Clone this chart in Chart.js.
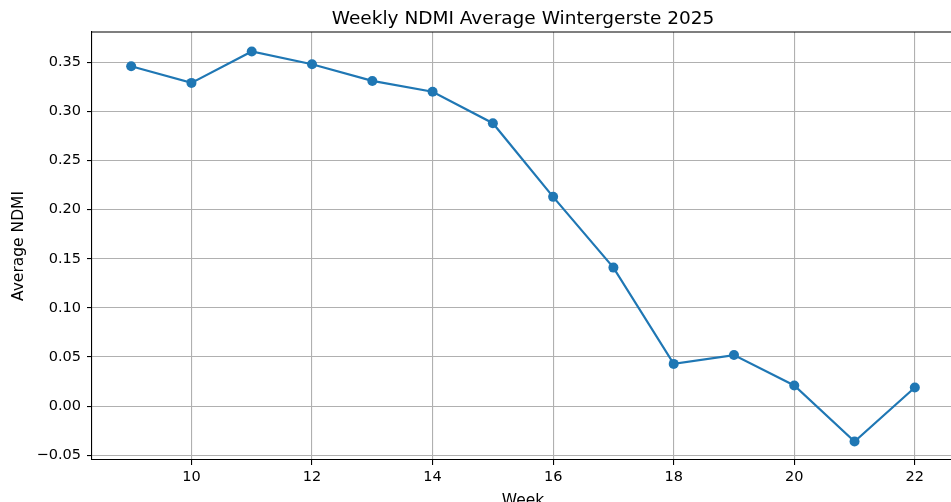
<!DOCTYPE html>
<html>
<head>
<meta charset="utf-8">
<script src="https://cdn.jsdelivr.net/npm/chart.js@4"></script>
<style>
  html, body { margin: 0; padding: 0; overflow: hidden; background: #fff; }
  body { width: 951px; height: 502px; }
</style>
</head>
<body>
<canvas id="ndmiChart" width="960" height="510"></canvas>
<script>
//
// weekly NDMI data
//
const weeks = [9, 10, 11, 12, 13, 14, 15, 16, 17, 18, 19, 20, 21, 22];
const ndmiValues = [0.346, 0.329, 0.361, 0.348, 0.331, 0.320, 0.288, 0.213, 0.141, 0.043, 0.052, 0.021, -0.036, 0.019];
const xTicks = [10, 12, 14, 16, 18, 20, 22];
const yTicks = [-0.05, 0.00, 0.05, 0.10, 0.15, 0.20, 0.25, 0.30, 0.35];
const chartTitle = "Weekly NDMI Average Wintergerste 2025";

Chart.defaults.font.family = "'DejaVu Sans', sans-serif";
Chart.defaults.color = "#000";

// box spines + title centred over the axes (matplotlib style)
const boxPlugin = {
  id: "box",
  afterDraw(chart) {
    const a = chart.chartArea;
    const ctx = chart.ctx;
    ctx.save();
    ctx.strokeStyle = "#000";
    ctx.lineWidth = 1.1;
    ctx.beginPath();
    ctx.moveTo(a.left, a.top);
    ctx.lineTo(a.right, a.top);
    ctx.lineTo(a.right, a.bottom);
    ctx.stroke();
    ctx.fillStyle = "#000";
    ctx.font = "18.5px 'DejaVu Sans', sans-serif";
    ctx.textAlign = "center";
    ctx.textBaseline = "alphabetic";
    ctx.fillText(chartTitle, (a.left + a.right) / 2, a.top - 8);
    ctx.restore();
  }
};

const ndmiChart = new Chart("ndmiChart", {
  type: "line",
  data: {
    datasets: [{
      label: "Average NDMI",
      data: weeks.map((w, i) => ({x: w, y: ndmiValues[i]})),
      borderColor: "#1f77b4",
      backgroundColor: "#1f77b4",
      borderWidth: 2.2,
      pointRadius: 5,
      pointHoverRadius: 5,
      pointBorderWidth: 0,
      tension: 0
    }]
  },
  options: {
    responsive: false,
    animation: false,
    devicePixelRatio: 1,
    layout: {padding: {left: 0, right: 6, top: 32, bottom: 0}},
    plugins: {
      legend: {display: false},
      tooltip: {enabled: false},
      title: {display: false}
    },
    scales: {
      x: {
        type: "linear",
        min: 8.35,
        max: 22.65,
        afterBuildTicks: (s) => { s.ticks = xTicks.map(v => ({value: v})); },
        afterFit: (s) => { s.height = 50; },
        ticks: {
          font: {size: 14.5},
          padding: 4,
          maxRotation: 0,
          callback: (v) => String(v)
        },
        grid: {color: "#b0b0b0", lineWidth: 1.1, tickColor: "#000", tickLength: 5},
        border: {color: "#000", width: 1.1},
        title: {display: true, text: "Week", font: {size: 15.5}, padding: {top: 0, bottom: 0}}
      },
      y: {
        min: -0.0548,
        max: 0.3808,
        afterBuildTicks: (s) => { s.ticks = yTicks.map(v => ({value: v})); },
        afterFit: (s) => { s.width = 92; },
        ticks: {
          font: {size: 14.5},
          padding: 6,
          callback: (v) => (v < 0 ? "\u2212" : "") + Math.abs(v).toFixed(2)
        },
        grid: {color: "#b0b0b0", lineWidth: 1.1, tickColor: "#000", tickLength: 5},
        border: {color: "#000", width: 1.1},
        title: {display: true, text: "Average NDMI", font: {size: 15.5}, padding: {top: 10, bottom: 0}}
      }
    }
  },
  plugins: [boxPlugin]
});
</script>
</body>
</html>
